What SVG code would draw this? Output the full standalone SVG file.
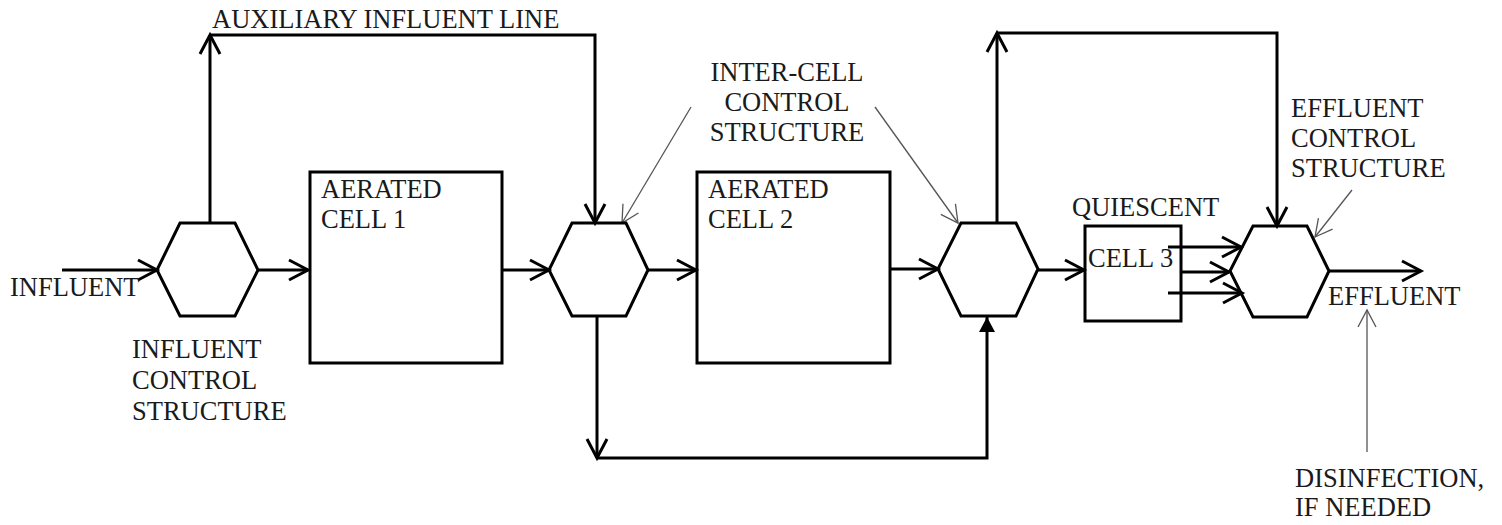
<svg xmlns="http://www.w3.org/2000/svg" width="1502" height="525" viewBox="0 0 1502 525">
<style>
.shape{fill:none;stroke:#000;stroke-width:3;stroke-linejoin:miter}
.conn{fill:none;stroke:#000;stroke-width:3}
.thin{fill:none;stroke:#555;stroke-width:1.3}
text{font-family:"Liberation Serif","Times New Roman",serif;font-size:26.5px;fill:#1a1a1a}
</style>
<defs>
<marker id="open" viewBox="-22 -12 24 24" markerWidth="24" markerHeight="24" refX="0" refY="0" orient="auto" markerUnits="userSpaceOnUse" overflow="visible">
<path d="M-19,-10 L0,0 L-19,10" fill="none" stroke="#000" stroke-width="3"/>
</marker>
<marker id="filled" viewBox="-16 -9 18 18" markerWidth="18" markerHeight="18" refX="0" refY="0" orient="auto" markerUnits="userSpaceOnUse" overflow="visible">
<path d="M-15,-8 L0,0 L-15,8 Z" fill="#000"/>
</marker>
<marker id="thinhead" viewBox="-20 -12 22 24" markerWidth="22" markerHeight="24" refX="0" refY="0" orient="auto" markerUnits="userSpaceOnUse" overflow="visible">
<path d="M-17,-9 L0,0 L-17,9" fill="none" stroke="#555" stroke-width="1.3"/>
</marker>
</defs>

<g id="connectors">
<path class="conn" d="M62,270 H157" marker-end="url(#open)"/>
<path class="conn" d="M258,270 H308" marker-end="url(#open)"/>
<path class="conn" d="M502,270 H549" marker-end="url(#open)"/>
<path class="conn" d="M648,270 H696" marker-end="url(#open)"/>
<path class="conn" d="M890,269 H938" marker-end="url(#open)"/>
<path class="conn" d="M1038,270 H1084" marker-end="url(#open)"/>
<path class="conn" d="M1168,247 H1241" marker-end="url(#open)"/>
<path class="conn" d="M1181,272 H1229" marker-end="url(#open)"/>
<path class="conn" d="M1168,293 H1242" marker-end="url(#open)"/>
<path class="conn" d="M1329,271 H1421" marker-end="url(#open)"/>
<path class="conn" d="M210,223 V35" marker-end="url(#open)"/>
<path class="conn" d="M210,35 H595 V223" marker-end="url(#open)"/>
<path class="conn" d="M997,223 V33" marker-end="url(#open)"/>
<path class="conn" d="M997,33 H1277 V226" marker-end="url(#open)"/>
<path class="conn" d="M597,316 V458" marker-end="url(#open)"/>
<path class="conn" d="M597,458 H987 V317" marker-end="url(#filled)"/>
<path class="thin" d="M691,107 L622,223" marker-end="url(#thinhead)"/>
<path class="thin" d="M875,107 L958,223" marker-end="url(#thinhead)"/>
<path class="thin" d="M1352,190 L1315,237" marker-end="url(#thinhead)"/>
<path class="thin" d="M1367,452 V310" marker-end="url(#thinhead)"/>
</g>

<g id="influent-control">
<polygon class="shape" points="157,270 180,223 235,223 258,270 235,316 180,316"/>
</g>
<g id="aerated-cell-1">
<rect class="shape" x="310" y="172" width="192" height="191"/>
<text x="321" y="198">AERATED</text>
<text x="321" y="228">CELL 1</text>
</g>
<g id="inter-cell-control-1">
<polygon class="shape" points="549,270 572,223 626,223 648,270 626,316 572,316"/>
</g>
<g id="aerated-cell-2">
<rect class="shape" x="697" y="172" width="193" height="191"/>
<text x="708" y="198">AERATED</text>
<text x="708" y="228">CELL 2</text>
</g>
<g id="inter-cell-control-2">
<polygon class="shape" points="938,269 961,223 1016,223 1038,269 1016,316 961,316"/>
</g>
<g id="quiescent-cell-3">
<rect class="shape" x="1085" y="226" width="96" height="95"/>
<text x="1088" y="267">CELL 3</text>
</g>
<g id="effluent-control">
<polygon class="shape" points="1230,271 1253,226 1307,226 1329,271 1307,317 1253,317"/>
</g>

<g id="labels">
<text x="212" y="28">AUXILIARY INFLUENT LINE</text>
<text x="10" y="296">INFLUENT</text>
<text x="132" y="358">INFLUENT</text>
<text x="132" y="389">CONTROL</text>
<text x="132" y="420">STRUCTURE</text>
<text x="787" y="81" text-anchor="middle">INTER-CELL</text>
<text x="787" y="111" text-anchor="middle">CONTROL</text>
<text x="787" y="141" text-anchor="middle">STRUCTURE</text>
<text x="1072" y="216">QUIESCENT</text>
<text x="1291" y="117">EFFLUENT</text>
<text x="1291" y="147">CONTROL</text>
<text x="1291" y="177">STRUCTURE</text>
<text x="1328" y="305">EFFLUENT</text>
<text x="1295" y="487">DISINFECTION,</text>
<text x="1295" y="516">IF NEEDED</text>
</g>
</svg>
